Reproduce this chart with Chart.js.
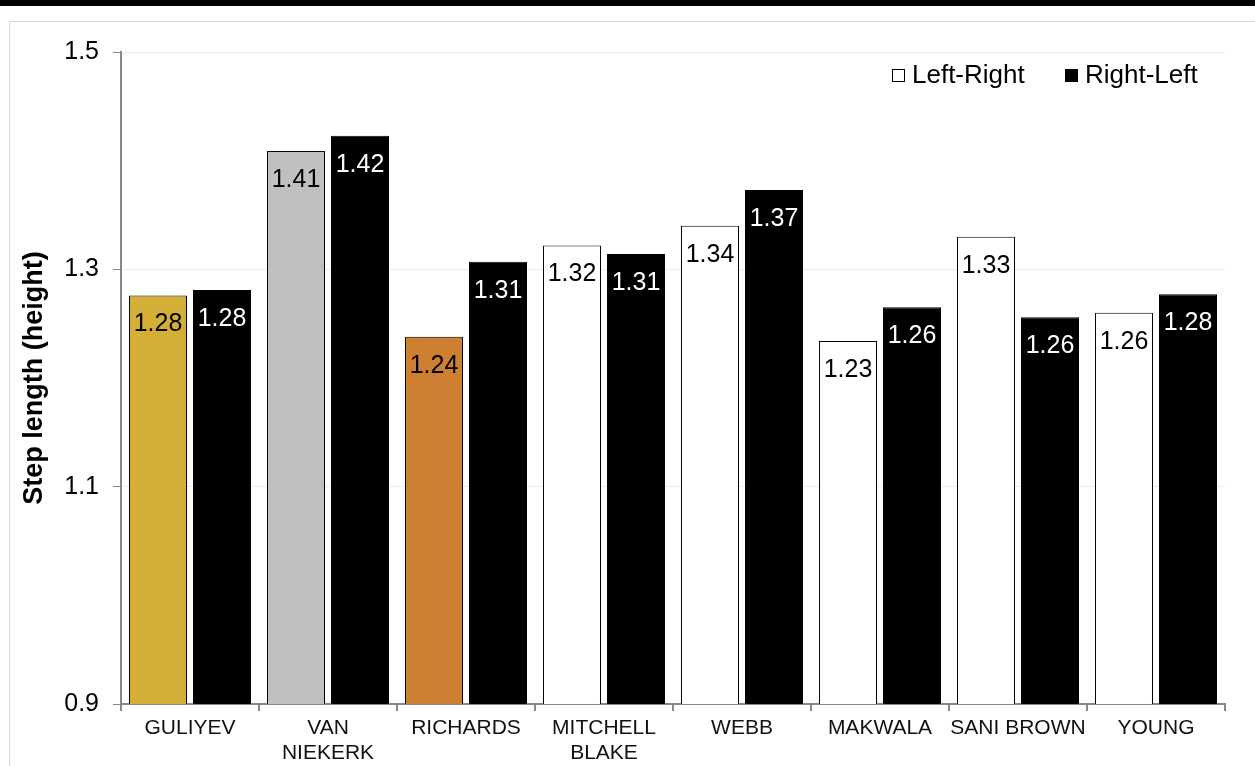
<!DOCTYPE html>
<html>
<head>
<meta charset="utf-8">
<script src="https://cdn.jsdelivr.net/npm/chart.js@4.4.1/dist/chart.umd.min.js"></script>
<style>
  html, body { margin: 0; padding: 0; background: #fff; overflow: hidden; }
  #topbar { position: absolute; left: 0; top: 0; width: 1255px; height: 6px; background: #000; }
  #frame { position: absolute; left: 9px; top: 21px; width: 1260px; height: 780px; border: 1px solid #d9d9d9; }
  #wrap { position: absolute; left: 0; top: 0; width: 1255px; height: 766px; }
</style>
</head>
<body>
<div id="topbar"></div>
<div id="frame"></div>
<div id="wrap"><canvas id="chart" width="1255" height="766"></canvas></div>
<script>
// Step length per athlete, both directions

const athletes = [
  'GULIYEV', ['VAN', 'NIEKERK'], 'RICHARDS', ['MITCHELL', 'BLAKE'],
  'WEBB', 'MAKWALA', 'SANI BROWN', 'YOUNG'
];
const leftRight = [1.276, 1.409, 1.238, 1.322, 1.340, 1.234, 1.330, 1.260];
const rightLeft = [1.281, 1.423, 1.307, 1.314, 1.373, 1.265, 1.256, 1.277];
const leftRightColors = ['#D4AF37', '#C0C0C0', '#CD7F32', '#FFFFFF', '#FFFFFF', '#FFFFFF', '#FFFFFF', '#FFFFFF'];
const yTicks = [0.9, 1.1, 1.3, 1.5];

const FONT = "'Liberation Sans', Arial, sans-serif";

// --- value labels drawn just inside the top of each bar ---
const barLabels = {
  id: 'barLabels',
  afterDatasetsDraw(chart) {
    const ctx = chart.ctx;
    ctx.save();
    ctx.font = '25px ' + FONT;
    ctx.textAlign = 'center';
    ctx.textBaseline = 'middle';
    chart.data.datasets.forEach((ds, i) => {
      chart.getDatasetMeta(i).data.forEach((bar, j) => {
        ctx.fillStyle = i === 0 ? '#000' : '#fff';
        ctx.fillText(ds.data[j].toFixed(2), bar.x, bar.y + 29);
      });
    });
    ctx.restore();
  }
};

// --- legend floating in the top-right corner of the plot ---
const floatLegend = {
  id: 'floatLegend',
  afterDraw(chart) {
    const ctx = chart.ctx;
    const spots = [892, 1065];
    ctx.save();
    ctx.font = '26px ' + FONT;
    ctx.textBaseline = 'middle';
    chart.data.datasets.forEach((ds, i) => {
      const x = spots[i], y = 76;
      ctx.fillStyle = i === 0 ? '#fff' : '#000';
      ctx.strokeStyle = '#000';
      ctx.lineWidth = 1;
      ctx.fillRect(x, y - 7, 13, 13);
      ctx.strokeRect(x + 0.5, y - 6.5, 12, 12);
      ctx.fillStyle = '#000';
      ctx.fillText(ds.label, x + 20, y);
    });
    ctx.restore();
  }
};

new Chart(document.getElementById('chart'), {
  type: 'bar',
  data: {
    labels: athletes,
    datasets: [
      {
        label: 'Left-Right',
        data: leftRight,
        backgroundColor: leftRightColors,
        borderColor: '#000',
        borderWidth: 1,
      },
      {
        label: 'Right-Left',
        data: rightLeft,
        backgroundColor: '#000',
        borderColor: '#000',
        borderWidth: 1,
      },
    ],
  },
  options: {
    responsive: false,
    animation: false,
    devicePixelRatio: 1,
    categoryPercentage: 0.928,
    barPercentage: 0.906,
    layout: { padding: { top: 52, right: 30, left: 0, bottom: 0 } },
    plugins: {
      legend: { display: false },
      tooltip: { enabled: false },
    },
    scales: {
      x: {
        afterFit: s => { s.height = 62; },
        grid: { drawOnChartArea: false, tickLength: 7, tickColor: '#888', lineWidth: 2 },
        border: { color: '#888', width: 2 },
        ticks: {
          color: '#111',
          font: { family: FONT, size: 21, lineHeight: 1.19 },
          maxRotation: 0,
          autoSkip: false,
          padding: 5,
        },
      },
      y: {
        min: 0.9,
        max: 1.5,
        afterFit: s => { s.width = 121; },
        afterBuildTicks: s => { s.ticks = yTicks.map(v => ({ value: v })); },
        grid: { color: '#ececec', tickColor: '#888', tickLength: 8, lineWidth: 1 },
        border: { color: '#888', width: 2 },
        ticks: {
          color: '#000',
          font: { family: FONT, size: 25 },
          padding: 14,
          callback: v => v.toFixed(1),
        },
        title: {
          display: true,
          text: 'Step length (height)',
          color: '#000',
          font: { family: FONT, size: 27, weight: 'bold' },
          padding: { top: 18, bottom: 0 },
        },
      },
    },
  },
  plugins: [barLabels, floatLegend],
});
</script>
</body>
</html>
